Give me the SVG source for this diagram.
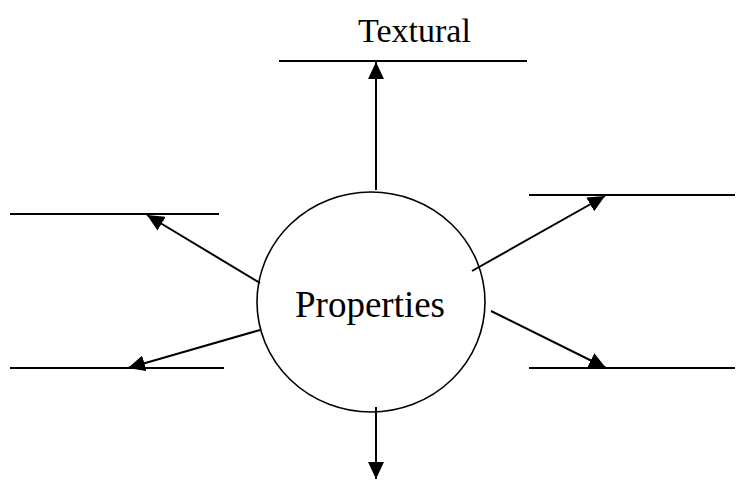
<svg xmlns="http://www.w3.org/2000/svg" width="739" height="480" viewBox="0 0 739 480">
<style>
.ln{stroke:#000;stroke-width:2;fill:none}
.ar{stroke:#000;stroke-width:2;fill:none;marker-end:url(#ah)}
.lbl{font-family:"Liberation Serif","Times New Roman",serif;fill:#000}
</style>
<defs>
<marker id="ah" markerUnits="userSpaceOnUse" markerWidth="18" markerHeight="16" viewBox="0 0 18 16" refX="17" refY="8" orient="auto">
<path d="M0,0 L17,8 L0,16 Z" fill="#000"/>
</marker>
</defs>
<rect width="739" height="480" fill="#fff"/>
<g id="textural">
<line class="ln" x1="279" y1="61" x2="527" y2="61"/>
<text class="lbl" x="414.5" y="42" font-size="34" text-anchor="middle">Textural</text>
</g>
<g id="left-top"><line class="ln" x1="10" y1="214" x2="219" y2="214"/></g>
<g id="left-bottom"><line class="ln" x1="10" y1="368" x2="224" y2="368"/></g>
<g id="right-top"><line class="ln" x1="529" y1="195" x2="735" y2="195"/></g>
<g id="right-bottom"><line class="ln" x1="529" y1="368" x2="735" y2="368"/></g>
<g id="properties">
<ellipse cx="371" cy="302" rx="114" ry="110" fill="#fff" stroke="#000" stroke-width="1.6"/>
<text class="lbl" x="370" y="317" font-size="37" text-anchor="middle">Properties</text>
</g>
<g id="connectors">
<line class="ar" x1="376" y1="190" x2="376" y2="62"/>
<line class="ar" x1="260" y1="283" x2="147" y2="215"/>
<line class="ar" x1="260" y1="330" x2="128" y2="368"/>
<line class="ar" x1="472" y1="271" x2="605" y2="196"/>
<line class="ar" x1="491" y1="311" x2="606" y2="368"/>
<line class="ar" x1="376" y1="407" x2="376" y2="479"/>
</g>
</svg>
